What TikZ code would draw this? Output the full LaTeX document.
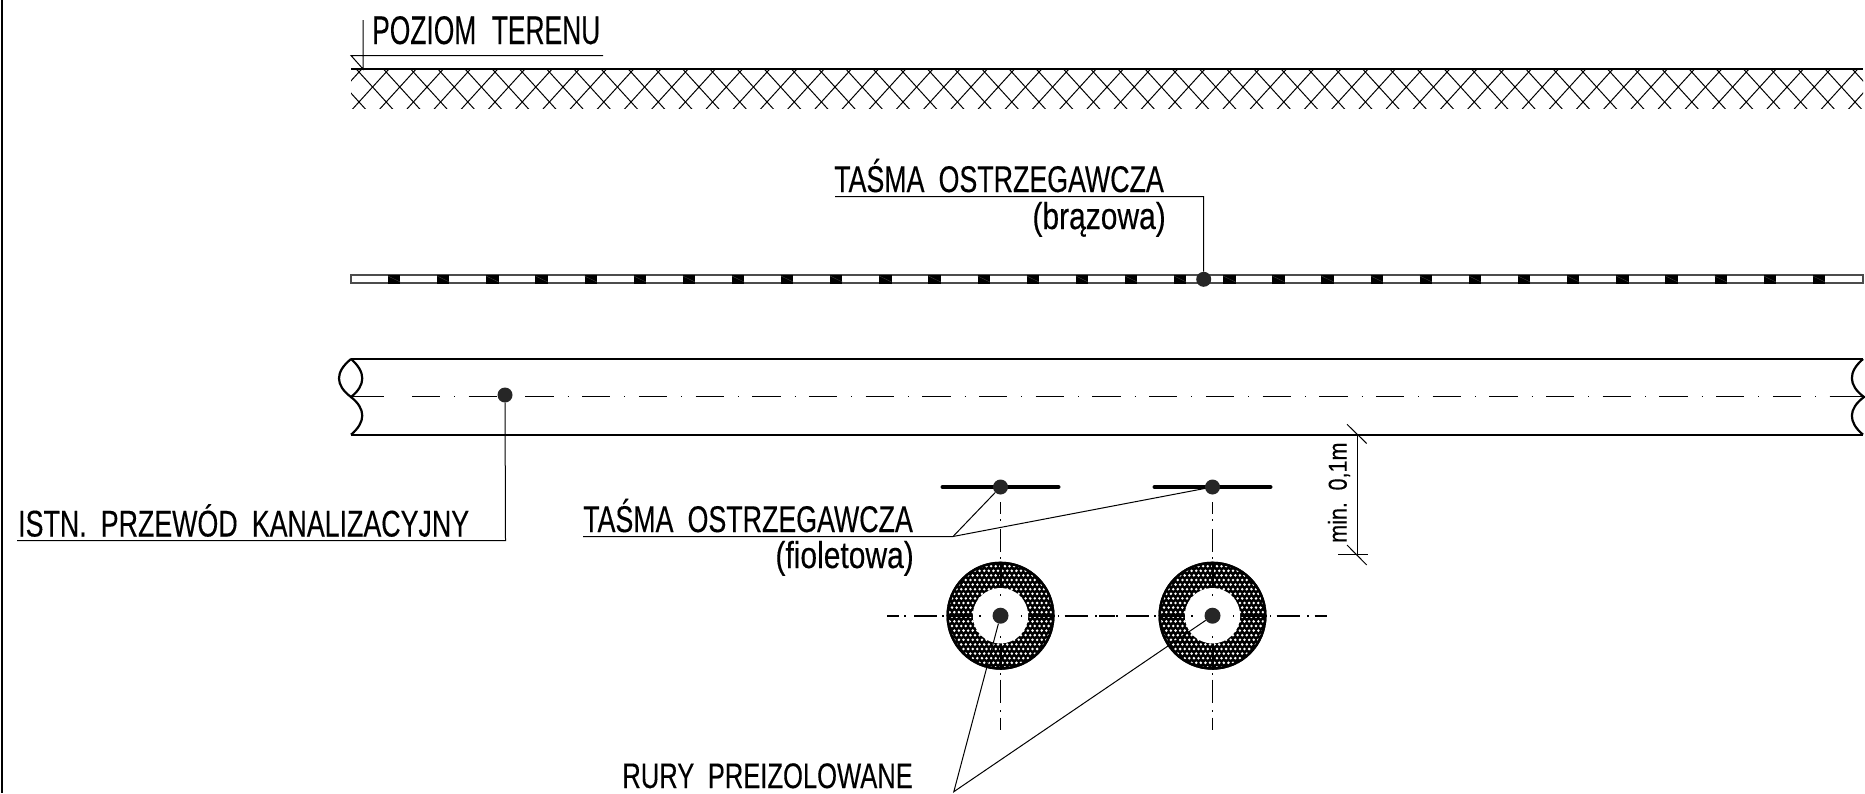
\documentclass[tikz,border=0pt]{standalone}
\usepackage{fontspec}
\setmainfont[FakeStretch=0.72,WordSpace=1.9,FakeBold=0.25]{Liberation Sans}
\newfontfamily\groundfont[FakeStretch=0.66,WordSpace=2.1,FakeBold=0.25]{Liberation Sans}
\newfontfamily\lowerfont[FakeStretch=0.8,FakeBold=0.25]{Liberation Sans}
\newfontfamily\dimfont[FakeStretch=0.83,WordSpace=1.6,FakeBold=0.2]{Liberation Sans}
\usetikzlibrary{positioning}

\tikzset{
  thick line/.style={line width=2.2pt},
  thin line/.style={line width=1pt},
  centre line/.style={line width=1pt},
  label/.style={inner sep=0pt,font=\fontsize{37.2}{37.2}\selectfont},
  small label/.style={inner sep=0pt,font=\lowerfont\fontsize{37.5}{37.5}\selectfont},
  marker/.style={circle,fill=black!85,inner sep=0pt,minimum size=15pt},
}

\begin{document}
\begin{tikzpicture}[x=1pt,y=-1pt]
  \useasboundingbox (0,0) rectangle (1865,793);
  \draw[line width=2pt] (1.5,0)--(1.5,793);

  % ground
  \begin{scope}
    \clip (351,69) rectangle (1863,108);
    \foreach \i in {-2,...,59} {
      \draw[thin line] (345.4+27.2*\i-30,54)--++(60,66);
      \draw[thin line] (345.4+27.2*\i+30,54)--++(-60,66);
    }
  \end{scope}
  \draw[line width=2.6pt] (351,69)--(1863,69);
  \coordinate (groundfoot) at (363,69);
  \coordinate (groundtop) at (363,20);
  \coordinate (groundleft) at (351,55.5);
  \coordinate (groundright) at (603,55.5);
  \draw[thin line] (groundtop)--(groundfoot)--(groundleft)--(groundright);
  \node[inner sep=0pt,font=\groundfont\fontsize{40}{40}\selectfont,anchor=base west] (ground) at (372,44) {POZIOM TERENU};

  % brown tape
  \draw[line width=1.1pt,black!70] (351,275) rectangle (1863,283);
  \foreach \i in {0,...,29} {
    \fill (388+49.13*\i,274.5) rectangle ++(12.3,9);
    \draw[line width=0.3pt,black!70] (388+49.13*\i,276)--++(12.3,6);
  }
  \node[marker] (brown) at (1203.7,279.3) {};
  \coordinate (brownleft) at (835,196.5);
  \coordinate (browncorner) at (1203.5,196.5);
  \draw[thin line] (brownleft)--(browncorner)--(brown);
  \node[label,anchor=base east] (browntext) at (1164,192) {TAŚMA OSTRZEGAWCZA};
  \node[small label,anchor=base east] at (1166,229) {(brązowa)};

  % sewer pipe
  \draw[thick line] (351,359)--(1863,359);
  \draw[thick line] (351,434.7)--(1863,434.7);
  \draw[thick line] (351,359) .. controls (335,372) and (335,385) .. (351,397)
    .. controls (366,385) and (366,372) .. (351,359);
  \draw[thick line] (351,397) .. controls (366,409) and (366,422) .. (351,434.7);
  \draw[thick line] (1863,359) .. controls (1848,372) and (1848,385) .. (1864,397)
    .. controls (1848,409) and (1848,422) .. (1863,434.7);
  \draw[centre line] (351,396.5)--(383.5,396.5);
  \draw[centre line,dash pattern=on 28.3pt off 14pt on 0.7pt off 13.7pt] (412,396.5)--(1858,396.5);
  \draw[centre line] (1829.5,396.5)--(1863,396.5);
  \node[marker] (sewer) at (505,395) {};
  \coordinate (sewercorner) at (505.5,540.5);
  \coordinate (sewerleft) at (17,540.5);
  \draw[thin line] (sewer)--(sewercorner)--(sewerleft);
  \node[label,anchor=base west] at (18,536.5) {ISTN. PRZEWÓD KANALIZACYJNY};

  % preinsulated pipes
  \foreach \cx/\name in {1000.5/a,1212.5/b} {
    \begin{scope}
      \clip (\cx,615.7) circle (54pt);
      \fill (\cx-60,560) rectangle (\cx+60,672);
      \foreach \r in {0,...,27} {
        \pgfmathsetmacro{\off}{mod(\r,2)*2.3}
        \foreach \c in {0,...,27} {
          \fill[white] (\cx-60+\off+4.6*\c,557+4.6*\r) circle (1.4pt);
        }
      }
    \end{scope}
    \draw[line width=2.5pt] (\cx,615.7) circle (52.8pt);
    \fill[white] (\cx,615.7) circle (27.7pt);
    \foreach \a in {0,90,180,270} {
      \begin{scope}[shift={(\cx,615.7)},rotate=\a]
        \fill (20,-0.9) rectangle (21.8,0.9);
        \draw[line width=2pt] (28,0)--(54,0);
        \fill (57,-0.9) rectangle (58.8,0.9);
        \draw[line width=1.7pt] (64,0)--(87,0);
        \fill (94.5,-0.9) rectangle (96.3,0.9);
        \draw[line width=1.7pt] (102,0)--(114,0);
      \end{scope}
    }
    \node[marker,minimum size=16pt] (pipe\name) at (\cx,615.7) {};
    \draw[line width=4pt,line cap=round] (\cx-58,487)--(\cx+58,487);
    \node[marker] (tape\name) at (\cx,487) {};
  }

  % violet tape labels
  \coordinate (violetjoin) at (953,536.5);
  \coordinate (violetleft) at (583,536.5);
  \draw[thin line] (violetleft)--(violetjoin)--(tapea);
  \draw[thin line] (violetjoin)--(tapeb);
  \node[label,anchor=base east] at (913,532) {TAŚMA OSTRZEGAWCZA};
  \node[small label,anchor=base east] at (914,568) {(fioletowa)};

  % pipe labels
  \coordinate (pipejoin) at (953.8,791.7);
  \draw[thin line] (pipea)--(pipejoin)--(pipeb);
  \node[inner sep=0pt,font=\fontsize{35.5}{35.5}\selectfont,anchor=base east] at (913,788) {RURY PREIZOLOWANE};

  % clearance
  \coordinate (dimtop) at (1357,434);
  \coordinate (dimbottom) at (1357,554.5);
  \draw[thin line] (dimtop)--(dimbottom);
  \draw[thin line] (1338,554.5)--(1368,554.5);
  \draw[thin line] (1347,424.3)--(1366.7,443.5);
  \draw[thin line] (1347,545)--(1366.7,565);
  \node[inner sep=0pt,font=\dimfont\fontsize{26}{26}\selectfont,rotate=90,anchor=base west] at (1346.7,543) {min. 0,1m};
\end{tikzpicture}
\end{document}
